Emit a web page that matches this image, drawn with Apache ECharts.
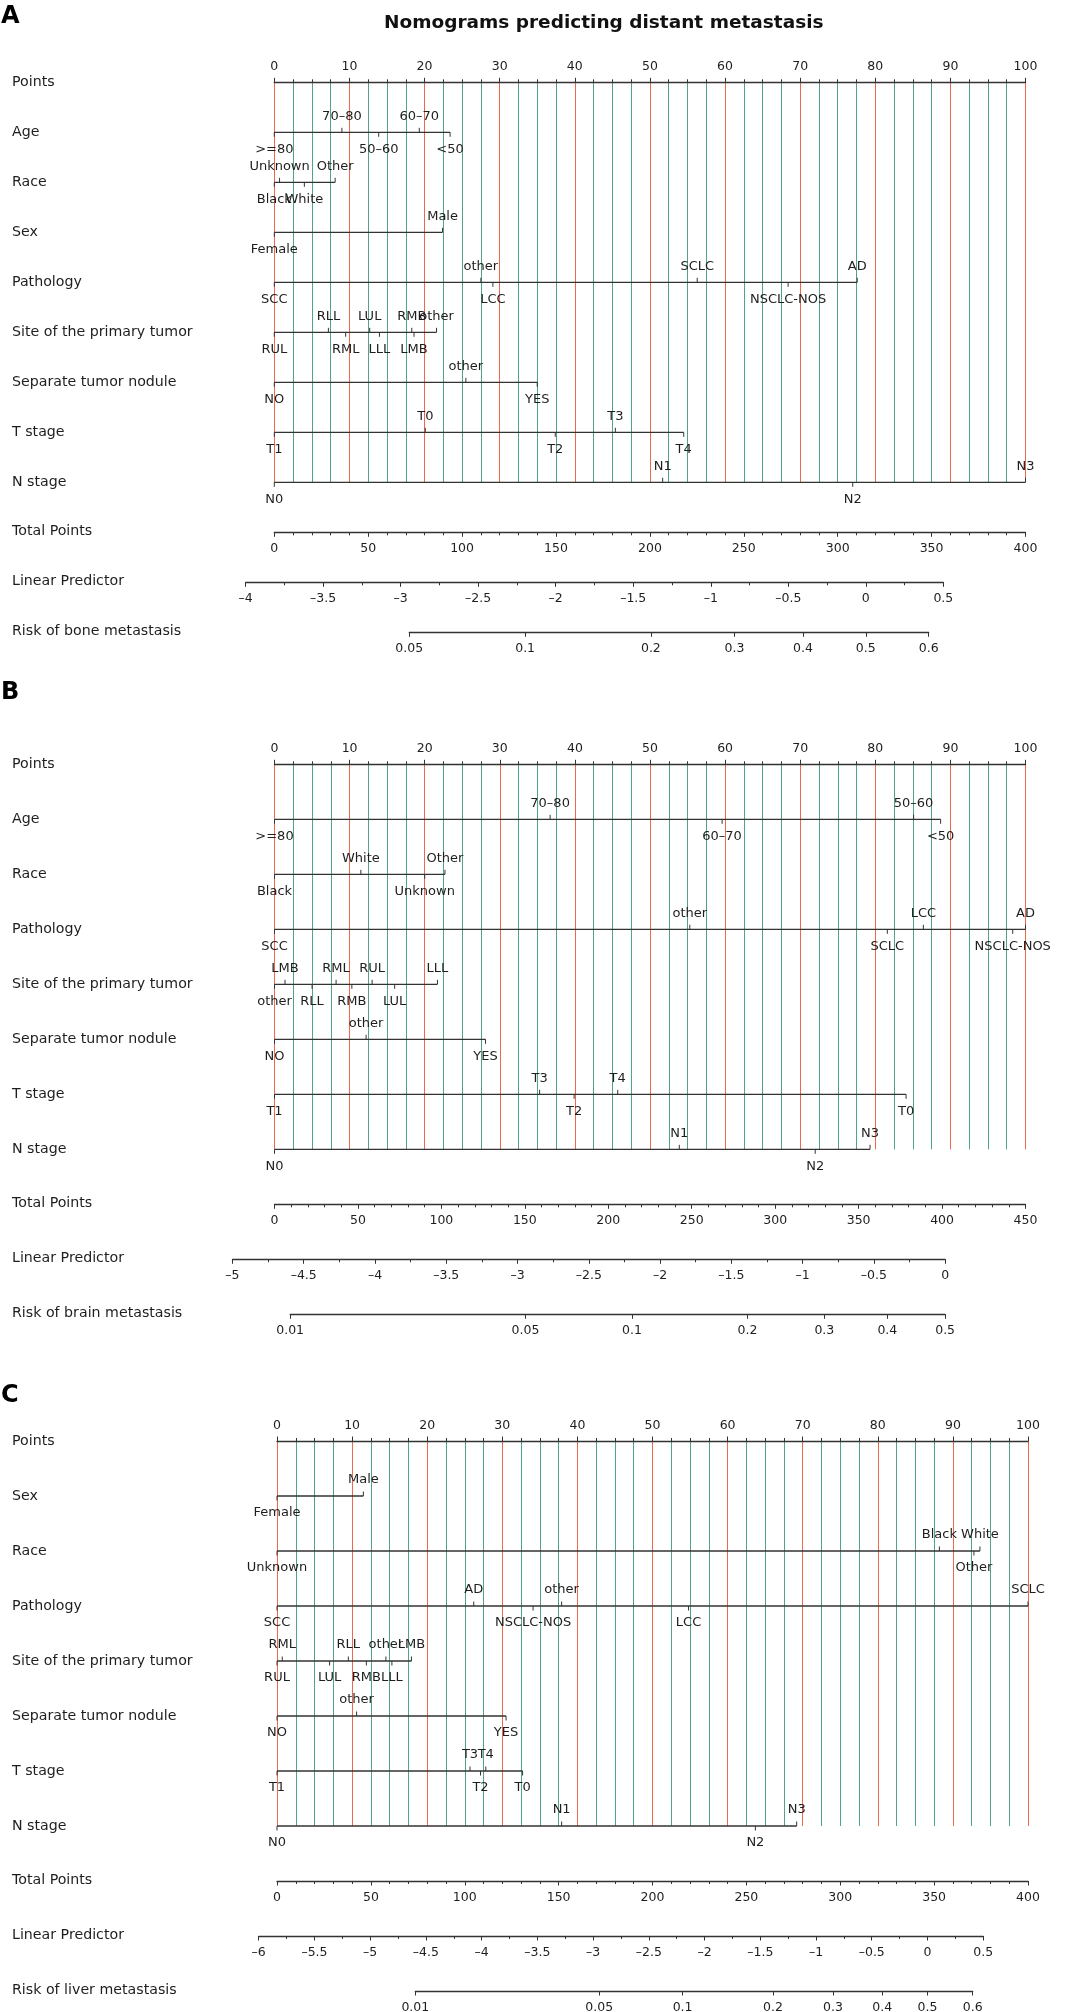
<!DOCTYPE html>
<html><head><meta charset="utf-8">
<script src="https://cdn.jsdelivr.net/npm/echarts@6/dist/echarts.min.js"></script>
<style>html,body{margin:0;padding:0;background:#fff}#c{width:1067px;height:2012px}</style>
</head><body><div id="c"></div>
<script>
// ================= DATA =================
// ---- Panel A : bone metastasis ----
const A_rows = ['Points','Age','Race','Sex','Pathology','Site of the primary tumor','Separate tumor nodule','T stage','N stage'];
const A_age_levels = ['>=80','70–80','50–60','60–70','<50'];
const A_age_pts = [0, 9.0, 13.9, 19.3, 23.4];
const A_race_levels = ['Black','Unknown','White','Other'];
const A_race_pts = [0, 0.7, 4.0, 8.1];
const A_sex_levels = ['Female','Male'];
const A_sex_pts = [0, 22.4];
const A_path_levels = ['SCC','other','LCC','SCLC','NSCLC-NOS','AD'];
const A_path_pts = [0, 27.5, 29.1, 56.3, 68.4, 77.6];
const A_site_levels = ['RUL','RLL','RML','LUL','LLL','RMB','LMB','other'];
const A_site_pts = [0, 7.2, 9.5, 12.7, 14.0, 18.3, 18.6, 21.6];
const A_stn_levels = ['NO','other','YES'];
const A_stn_pts = [0, 25.5, 35.0];
const A_t_levels = ['T1','T0','T2','T3','T4'];
const A_t_pts = [0, 20.1, 37.4, 45.4, 54.5];
const A_n_levels = ['N0','N1','N2','N3'];
const A_n_pts = [0, 51.7, 77.0, 100];
const A_total_max = 400;
const A_lp_range = [-4, 0.5];
const A_lp_at_total = [-3.815, 1.03];   // LP at total points 0 and at max
const A_risk_ticks = [0.05, 0.1, 0.2, 0.3, 0.4, 0.5, 0.6];
const A_risk_name = 'Risk of bone metastasis';

// ---- Panel B : brain metastasis ----
const B_rows = ['Points','Age','Race','Pathology','Site of the primary tumor','Separate tumor nodule','T stage','N stage'];
const B_age_levels = ['>=80','70–80','60–70','50–60','<50'];
const B_age_pts = [0, 36.7, 59.6, 85.1, 88.7];
const B_race_levels = ['Black','White','Unknown','Other'];
const B_race_pts = [0, 11.5, 20.0, 22.7];
const B_path_levels = ['SCC','other','SCLC','LCC','NSCLC-NOS','AD'];
const B_path_pts = [0, 55.3, 81.6, 86.4, 98.3, 100];
const B_site_levels = ['other','LMB','RLL','RML','RMB','RUL','LUL','LLL'];
const B_site_pts = [0, 1.4, 5.0, 8.2, 10.3, 13.0, 16.0, 21.7];
const B_stn_levels = ['NO','other','YES'];
const B_stn_pts = [0, 12.2, 28.1];
const B_t_levels = ['T1','T3','T2','T4','T0'];
const B_t_pts = [0, 35.3, 39.9, 45.7, 84.1];
const B_n_levels = ['N0','N1','N2','N3'];
const B_n_pts = [0, 53.9, 72.0, 79.3];
const B_total_max = 450;
const B_lp_range = [-5, 0];
const B_lp_at_total = [-4.705, 0.564];
const B_risk_ticks = [0.01, 0.05, 0.1, 0.2, 0.3, 0.4, 0.5];
const B_risk_name = 'Risk of brain metastasis';

// ---- Panel C : liver metastasis ----
const C_rows = ['Points','Sex','Race','Pathology','Site of the primary tumor','Separate tumor nodule','T stage','N stage'];
const C_sex_levels = ['Female','Male'];
const C_sex_pts = [0, 11.5];
const C_race_levels = ['Unknown','Black','Other','White'];
const C_race_pts = [0, 88.2, 92.8, 93.6];
const C_path_levels = ['SCC','AD','NSCLC-NOS','other','LCC','SCLC'];
const C_path_pts = [0, 26.2, 34.1, 37.9, 54.8, 100];
const C_site_levels = ['RUL','RML','LUL','RLL','RMB','other','LLL','LMB'];
const C_site_pts = [0, 0.7, 7.0, 9.5, 11.9, 14.5, 15.3, 17.9];
const C_stn_levels = ['NO','other','YES'];
const C_stn_pts = [0, 10.6, 30.5];
const C_t_levels = ['T1','T3','T2','T4','T0'];
const C_t_pts = [0, 25.7, 27.1, 27.8, 32.7];
const C_n_levels = ['N0','N1','N2','N3'];
const C_n_pts = [0, 37.9, 63.7, 69.2];
const C_total_max = 400;
const C_lp_range = [-6, 0.5];
const C_lp_at_total = [-5.836, 0.902];
const C_risk_ticks = [0.01, 0.05, 0.1, 0.2, 0.3, 0.4, 0.5, 0.6];
const C_risk_name = 'Risk of liver metastasis';

const TITLE = 'Nomograms predicting distant metastasis';

// ================= STYLE / LAYOUT =================
const FONT = 'DejaVu Sans';
const TXT = '#1e1e1e';
const AXC = '#333333';
const RED = '#f0684a';
const TEAL = '#4fa28b';
const LABEL_X = 12;
const TICK_FS = 13;
const AXIS_FS = 12.5;
const ROW_FS = 14.2;

const panels = [
  { letter:'A', letterTop:5, X0:274.3, X1:1025.5, top:82.3, gap:50, rows:A_rows,
    vars:[[A_age_levels,A_age_pts],[A_race_levels,A_race_pts],[A_sex_levels,A_sex_pts],[A_path_levels,A_path_pts],
          [A_site_levels,A_site_pts],[A_stn_levels,A_stn_pts],[A_t_levels,A_t_pts],[A_n_levels,A_n_pts]],
    totalMax:A_total_max, lpRange:A_lp_range, lpAt:A_lp_at_total, risk:A_risk_ticks, riskName:A_risk_name },
  { letter:'B', letterTop:681, X0:274.5, X1:1025.5, top:764.3, gap:55, rows:B_rows,
    vars:[[B_age_levels,B_age_pts],[B_race_levels,B_race_pts],[B_path_levels,B_path_pts],
          [B_site_levels,B_site_pts],[B_stn_levels,B_stn_pts],[B_t_levels,B_t_pts],[B_n_levels,B_n_pts]],
    totalMax:B_total_max, lpRange:B_lp_range, lpAt:B_lp_at_total, risk:B_risk_ticks, riskName:B_risk_name },
  { letter:'C', letterTop:1384, X0:277, X1:1028, top:1441, gap:55, rows:C_rows,
    vars:[[C_sex_levels,C_sex_pts],[C_race_levels,C_race_pts],[C_path_levels,C_path_pts],
          [C_site_levels,C_site_pts],[C_stn_levels,C_stn_pts],[C_t_levels,C_t_pts],[C_n_levels,C_n_pts]],
    totalMax:C_total_max, lpRange:C_lp_range, lpAt:C_lp_at_total, risk:C_risk_ticks, riskName:C_risk_name }
];

function logit(p){ return Math.log(p/(1-p)); }
function fmtNum(v){ const r = Math.round(v*1000)/1000; return (r < 0 ? '–' : '') + Math.abs(r); }

const option = {
  animation:false,
  backgroundColor:'#ffffff',
  title:[{ text:TITLE, left:384, top:14, padding:0,
           textStyle:{ fontFamily:FONT, fontWeight:'bold', fontSize:18.5, color:'#111' } }],
  grid:[], xAxis:[], yAxis:[], series:[]
};

function lineAxisCommon(){
  return {
    axisLine:{ show:true, lineStyle:{ color:AXC, width:1.3 } },
    axisTick:{ show:true, length:4.5, lineStyle:{ color:AXC, width:1 } },
    splitLine:{ show:false },
    axisLabel:{ fontSize:AXIS_FS, color:TXT, fontFamily:FONT, margin:8 }
  };
}
function nameYAxis(g, name, margin){
  return { gridIndex:g, type:'category', data:[name],
    axisLine:{show:false}, axisTick:{show:false}, splitLine:{show:false},
    axisLabel:{ show:true, align:'left', margin:margin, fontSize:ROW_FS, color:TXT, fontFamily:FONT } };
}

panels.forEach(P => {
  option.title.push({ text:P.letter, left:1, top:P.letterTop, padding:0,
    textStyle:{ fontFamily:FONT, fontWeight:'bold', fontSize:24, color:'#000' } });
  const W = P.X1 - P.X0;
  const nv = P.vars.length;
  const px = pu => P.X0 + pu/100*W;
  const puOfLp = lp => (lp - P.lpAt[0])/(P.lpAt[1] - P.lpAt[0])*100;

  // ---------- main grid: Points axis + variables ----------
  let g = option.grid.length;
  option.grid.push({ left:P.X0, width:W, top:P.top, height:nv*P.gap, containLabel:false, outerBoundsMode:'none' });
  option.xAxis.push(Object.assign(lineAxisCommon(), {
    gridIndex:g, type:'value', position:'top', min:0, max:100, interval:10,
    minorTick:{ show:true, splitNumber:4, length:3, lineStyle:{ color:AXC } },
    splitLine:{ show:true, lineStyle:{ color:RED, width:1 } },
    minorSplitLine:{ show:true, lineStyle:{ color:TEAL, width:1 } },
    axisLabel:{ fontSize:AXIS_FS, color:TXT, fontFamily:FONT, margin:9 }
  }));
  option.yAxis.push({ gridIndex:g, type:'value', inverse:true, min:0, max:nv, interval:1,
    axisLine:{show:false}, axisTick:{show:false}, splitLine:{show:false},
    axisLabel:{ show:true, showMinLabel:true, showMaxLabel:true, align:'left', margin:P.X0-LABEL_X,
      fontSize:ROW_FS, color:TXT, fontFamily:FONT, formatter:v => P.rows[v] || '' } });

  const segs = [], ticks = [], labels = [];
  P.vars.forEach((vv, i) => {
    const lv = vv[0], pts = vv[1];
    segs.push([Math.min(...pts), Math.max(...pts), i+1]);
    const order = pts.map((v,k)=>k).sort((a,b)=>pts[a]-pts[b]);
    order.forEach((k, r) => { ticks.push([pts[k], i+1, r % 2 === 0 ? 1 : -1]); labels.push(lv[k]); });
  });
  option.series.push({ type:'custom', xAxisIndex:g, yAxisIndex:g, silent:true, clip:false,
    encode:{ x:[0,1], y:2 }, data:segs,
    renderItem:(params, api) => {
      const a = api.coord([api.value(0), api.value(2)]);
      const b = api.coord([api.value(1), api.value(2)]);
      return { type:'line', shape:{ x1:a[0], y1:a[1], x2:b[0], y2:b[1] }, style:{ stroke:AXC, lineWidth:1.3 } };
    } });
  option.series.push({ type:'custom', xAxisIndex:g, yAxisIndex:g, silent:true, clip:false,
    encode:{ x:0, y:1 }, data:ticks,
    renderItem:(params, api) => {
      const c = api.coord([api.value(0), api.value(1)]);
      const s = api.value(2);
      return { type:'group', children:[
        { type:'line', shape:{ x1:c[0], y1:c[1], x2:c[0], y2:c[1] + s*4.5 }, style:{ stroke:AXC, lineWidth:1 } },
        { type:'text', style:{ text:labels[params.dataIndex], x:c[0], y:c[1] + (s > 0 ? 17 : -16),
            align:'center', verticalAlign:'middle', fontSize:TICK_FS, fontFamily:FONT, fill:TXT } }
      ] };
    } });

  // ---------- Total Points ----------
  const yTot = P.top + (nv+1)*P.gap;
  g = option.grid.length;
  option.grid.push({ left:P.X0, width:W, top:yTot-1, height:1, containLabel:false, outerBoundsMode:'none' });
  option.xAxis.push(Object.assign(lineAxisCommon(), {
    gridIndex:g, type:'value', position:'bottom', min:0, max:P.totalMax, interval:50,
    minorTick:{ show:true, splitNumber:5, length:3, lineStyle:{ color:AXC } },
    axisLabel:{ fontSize:AXIS_FS, color:TXT, fontFamily:FONT, margin:10 } }));
  option.yAxis.push(nameYAxis(g, 'Total Points', P.X0 - LABEL_X));

  // ---------- Linear Predictor ----------
  const yLp = yTot + P.gap;
  const lpL = px(puOfLp(P.lpRange[0])), lpR = px(puOfLp(P.lpRange[1]));
  g = option.grid.length;
  option.grid.push({ left:lpL, width:lpR-lpL, top:yLp-1, height:1, containLabel:false, outerBoundsMode:'none' });
  option.xAxis.push(Object.assign(lineAxisCommon(), {
    gridIndex:g, type:'value', position:'bottom', min:P.lpRange[0], max:P.lpRange[1], interval:0.5,
    minorTick:{ show:true, splitNumber:2, length:3, lineStyle:{ color:AXC } },
    axisLabel:{ fontSize:AXIS_FS, color:TXT, fontFamily:FONT, margin:10, formatter:v => fmtNum(v) } }));
  option.yAxis.push(nameYAxis(g, 'Linear Predictor', lpL - LABEL_X));

  // ---------- Risk ----------
  const yRk = yLp + P.gap;
  const rv = P.risk.map(logit);
  const rL = px(puOfLp(rv[0])), rR = px(puOfLp(rv[rv.length-1]));
  g = option.grid.length;
  option.grid.push({ left:rL, width:rR-rL, top:yRk-1, height:1, containLabel:false, outerBoundsMode:'none' });
  option.xAxis.push(Object.assign(lineAxisCommon(), {
    gridIndex:g, type:'value', position:'bottom', min:rv[0], max:rv[rv.length-1],
    axisTick:{ show:true, length:4.5, customValues:rv, lineStyle:{ color:AXC } },
    axisLabel:{ fontSize:AXIS_FS, color:TXT, fontFamily:FONT, margin:10, customValues:rv,
      formatter:v => { let best = 0; rv.forEach((x,k)=>{ if (Math.abs(x-v) < Math.abs(rv[best]-v)) best = k; }); return String(P.risk[best]); } } }));
  option.yAxis.push(nameYAxis(g, P.riskName, rL - LABEL_X));
});

const chart = echarts.init(document.getElementById('c'), null, { renderer:'canvas', width:1067, height:2012 });
chart.setOption(option);
</script>
</body></html>
